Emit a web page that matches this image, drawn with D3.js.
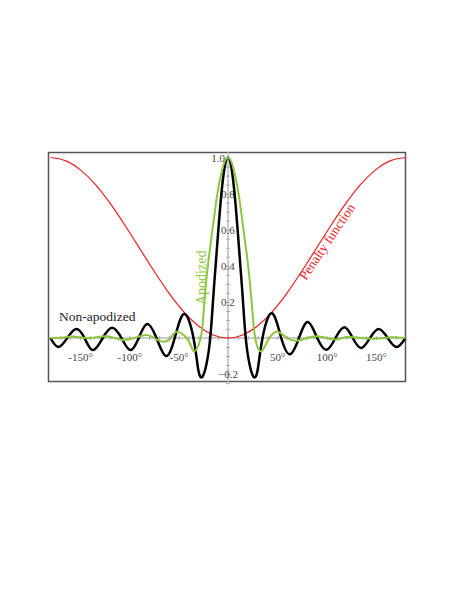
<!DOCTYPE html>
<html>
<head>
<meta charset="utf-8">
<script src="https://cdn.jsdelivr.net/npm/d3@7"></script>
<style>
  body { margin: 0; background: #fff; }
  svg { display: block; }
  text { font-family: "Liberation Serif", "Times New Roman", serif; }
</style>
</head>
<body>
<svg id="chart" width="458" height="592"></svg>
<script>
// angles in degrees
const blackDeg = [-180, -172, -163, -154, -145.5, -137, -127, -117.5, -108, -99, -90.5, -82, -72.5, -63, -54, -44.5, -35, -30, -26, -22, -18, -15, -12, -8, -4, 0,
                  4, 8, 12, 15, 18, 22, 26, 30, 35, 44.5, 54, 63, 72, 81, 90.5, 100, 109, 118, 126.5, 135, 144, 153, 162, 171, 180];
const blackVal = [0, -0.05, 0, 0.05, 0, -0.067, 0, 0.057, 0, -0.067, 0, 0.078, 0, -0.1, 0, 0.133, 0, -0.18, -0.215, -0.15, 0, 0.22, 0.44, 0.72, 0.925, 1.0,
                  0.925, 0.72, 0.44, 0.22, 0, -0.15, -0.215, -0.18, 0, 0.137, 0, -0.09, 0, 0.088, 0, -0.065, 0, 0.06, 0, -0.055, 0, 0.05, 0, -0.05, 0];

const greenDeg = [-180, -165, -157, -140, -123, -108, -95, -83, -75, -66, -58, -52, -42, -37, -33, -27, -24, -20, -15, -11, -5, 0,
                  5, 11, 15, 20, 24, 27, 32, 37, 42, 50, 60, 70, 80, 90, 100, 110, 120, 135, 150, 165, 180];
const greenVal = [0, 0.004, 0.008, 0, 0.01, -0.01, 0, 0.016, 0, -0.02, 0, 0.035, 0, -0.05, -0.07, 0.02, 0.2, 0.42, 0.63, 0.79, 0.95, 1.0,
                  0.95, 0.79, 0.63, 0.42, 0.2, 0.02, -0.07, -0.05, 0, 0.035, 0, -0.015, 0, 0.01, 0, -0.008, 0.005, 0, -0.004, 0.004, 0];

const redDeg = [-180, -165, -150, -135, -120, -105, -90, -75, -60, -45, -30, -15, 0, 15, 30, 45, 60, 75, 90, 105, 120, 135, 150, 165, 180];
const redVal = [1.0, 0.983, 0.933, 0.854, 0.75, 0.629, 0.5, 0.371, 0.25, 0.146, 0.067, 0.017, 0, 0.017, 0.067, 0.146, 0.25, 0.371, 0.5, 0.629, 0.75, 0.854, 0.933, 0.983, 1.0];

const xLabelTicks = [-150, -100, -50, 50, 100, 150];
const yLabelTicks = [-0.2, 0.2, 0.4, 0.6, 0.8, 1.0];

const svg = d3.select("#chart");
const frameL = 48.5, frameR = 405.5, frameT = 152.5, frameB = 381.5;

const x = d3.scaleLinear().domain([-182, 180]).range([frameL, frameR]);
const y = d3.scaleLinear().domain([0, 1]).range([338, 157.5]);

// frame
svg.append("rect")
  .attr("x", frameL).attr("y", frameT)
  .attr("width", frameR - frameL).attr("height", frameB - frameT)
  .attr("fill", "none").attr("stroke", "#555").attr("stroke-width", 1.5);

// vertical axis line
svg.append("line")
  .attr("x1", x(0)).attr("x2", x(0))
  .attr("y1", frameT).attr("y2", frameB)
  .attr("stroke", "#ccc").attr("stroke-width", 2);

// zero line
svg.append("line")
  .attr("x1", frameL).attr("x2", frameR)
  .attr("y1", y(0)).attr("y2", y(0))
  .attr("stroke", "#999").attr("stroke-width", 1);

// minor ticks on x
const xMinor = svg.append("g")
  .attr("transform", `translate(0,${y(0) - 2})`)
  .call(d3.axisBottom(x).tickValues(d3.range(-170, 180, 10)).tickSize(4).tickFormat(""));
xMinor.select(".domain").remove();
xMinor.selectAll("line").attr("stroke", "#aaa");

// minor ticks on y
const yMinor = svg.append("g")
  .attr("transform", `translate(${x(0) + 2},0)`)
  .call(d3.axisLeft(y).tickValues(d3.range(-0.25, 1.0, 0.05)).tickSize(4).tickFormat(""));
yMinor.select(".domain").remove();
yMinor.selectAll("line").attr("stroke", "#aaa");

// x labels
const xAxis = svg.append("g")
  .attr("transform", `translate(0,${y(0)})`)
  .call(d3.axisBottom(x).tickValues(xLabelTicks).tickSize(0).tickPadding(15).tickFormat(d => d + "°"));
xAxis.select(".domain").remove();
xAxis.selectAll("text")
  .attr("font-family", "Liberation Serif, serif")
  .attr("font-size", 11).attr("fill", "#444");

// y labels
const yAxis = svg.append("g")
  .attr("transform", `translate(${x(0)},0)`)
  .call(d3.axisLeft(y).tickValues(yLabelTicks).tickSize(0).tickFormat(d3.format(".1f")));
yAxis.select(".domain").remove();
yAxis.selectAll("text")
  .attr("font-family", "Liberation Serif, serif")
  .attr("font-size", 11).attr("fill", "#444")
  .attr("text-anchor", d => d === 1.0 ? "end" : "middle")
  .attr("x", d => d === 1.0 ? -3 : 0);

const line = d3.line()
  .x(d => x(d[0]))
  .y(d => y(d[1]))
  .curve(d3.curveNatural);

svg.append("path")
  .datum(d3.zip(redDeg, redVal))
  .attr("fill", "none").attr("stroke", "#ee1c24").attr("stroke-width", 1.2)
  .attr("d", line);

svg.append("path")
  .datum(d3.zip(blackDeg, blackVal))
  .attr("fill", "none").attr("stroke", "#000").attr("stroke-width", 2.5)
  .attr("d", line);

svg.append("path")
  .datum(d3.zip(greenDeg, greenVal))
  .attr("fill", "none").attr("stroke", "#8cc63f").attr("stroke-width", 2)
  .attr("d", line);

// series labels
svg.append("text")
  .attr("x", 59).attr("y", 321)
  .attr("font-size", 13.5).attr("fill", "#222")
  .text("Non-apodized");

svg.append("text")
  .attr("transform", "translate(206,305) rotate(-90)")
  .attr("font-size", 14).attr("fill", "#8cc63f")
  .text("Apodized");

svg.append("text")
  .attr("transform", "translate(306,281) rotate(-56)")
  .attr("font-size", 13.5).attr("fill", "#ee1c24")
  .text("Penalty function");
</script>
</body>
</html>
